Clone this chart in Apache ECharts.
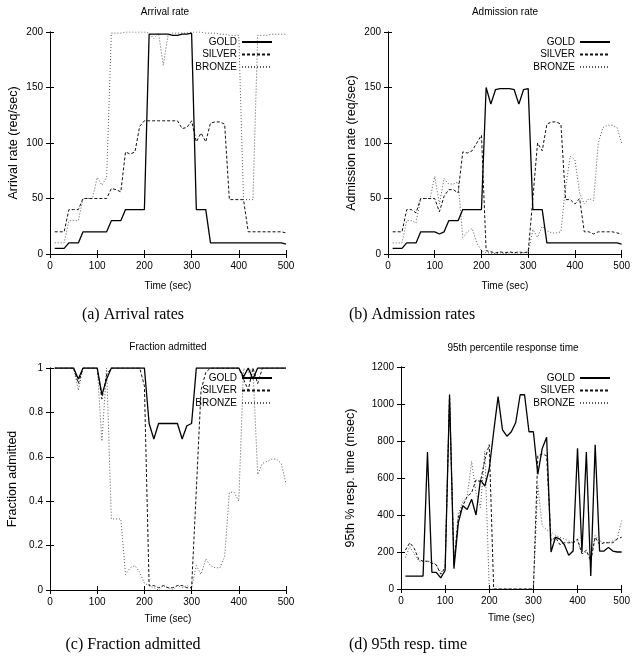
<!DOCTYPE html>
<html><head><meta charset="utf-8">
<script src="https://cdn.jsdelivr.net/npm/echarts@6/dist/echarts.min.js"></script>
<style>html,body{margin:0;padding:0;background:#fff}#c{width:633px;height:666px}</style>
</head><body><div id="c"></div>
<script>
// ---- data ----
const times = [10,20,30,40,50,60,70,80,90,100,110,120,130,140,150,160,170,180,190,200,
  210,220,230,240,250,260,270,280,290,300,310,320,330,340,350,360,370,380,390,400,
  410,420,430,440,450,460,470,480,490,500];
const seriesNames = ['GOLD','SILVER','BRONZE'];

const goldArrival = [5,5,5,10,10,10,20,20,20,20, 20,20,30,30,30,40,40,40,40,40,
  198,198,198,198,198,197,197,198,198,199, 40,40,40,10,10,10,10,10,10,10, 10,10,10,10,10,10,10,10,10,9];
const silverArrival = [20,20,20,40,40,40,50,50,50,50, 50,50,59,58,56,92,90,92,115,120,
  120,120,120,120,120,120,120,113,114,120, 101,109,101,118,119,119,117,49,49,49, 49,20,20,20,20,20,20,20,20,19];
const bronzeArrival = [10,10,10,30,30,30,50,50,50,69, 62,69,199,199,199,200,200,200,200,200,
  199,194,199,170,197,199,199,199,199,200, 200,200,199,199,199,198,198,197,197,197, 49,49,49,197,197,197,198,198,198,198];

const goldAdmission = [5,5,5,10,10,10,20,20,20,20, 18,20,30,30,30,40,40,40,40,40,
  150,135,148,149,149,149,148,135,148,149, 40,40,40,10,10,10,10,10,10,10, 10,10,10,10,10,10,10,10,10,9];
const silverAdmission = [20,20,20,40,40,37,50,50,50,50, 38,52,58,58,55,92,91,93,100,107,
  3,2,1,2,1,2,1,2,1,2, 50,100,93,117,119,119,117,49,49,45, 50,20,20,18,20,20,20,20,19,18];
const bronzeAdmission = [10,10,10,30,30,28,50,50,50,70, 45,68,63,63,65,15,20,23,10,3,
  1,1,0,1,0,1,1,0,1,1, 22,15,25,21,19,19,20,60,88,85, 55,45,50,48,100,114,116,116,114,100];

const goldFraction = [1,1,1,1,1,0.95,1,1,1,1, 0.88,0.95,1,1,1,1,1,1,1,1,
  0.75,0.68,0.75,0.75,0.75,0.75,0.75,0.68,0.74,0.75, 1,1,1,1,1,1,1,1,1,1, 0.96,1,0.95,1,1,1,1,1,1,1];
const silverFraction = [1,1,1,1,1,0.93,1,1,1,1, 0.86,0.97,1,1,1,1,1,1,1,0.92,
  0.02,0.02,0.01,0.02,0.01,0.01,0.02,0.02,0.01,0.01, 0.45,0.9,0.98,1,1,1,1,1,1,1, 0.95,0.9,1,0.93,1,1,1,1,1,1];
const bronzeFraction = [1,1,1,1,1,0.9,1,1,1,1, 0.67,1,0.32,0.32,0.32,0.07,0.1,0.11,0.08,0.03,
  0.02,0.01,0,0.02,0.01,0,0.02,0.01,0.02,0.01, 0.11,0.07,0.14,0.11,0.1,0.1,0.15,0.44,0.44,0.4, 1,0.98,1,0.52,0.57,0.58,0.59,0.59,0.57,0.48];

const goldResp = [70,70,70,70,70,740,90,90,60,100, 1050,110,360,450,430,485,400,590,556,650,
  850,1040,860,826,850,900,1050,1050,850,850, 620,760,820,200,280,270,240,182,205,760, 200,740,70,780,205,205,225,205,200,200];
const silverResp = [210,250,220,160,150,150,140,130,80,115, 1050,130,390,450,500,520,590,580,700,780,
  0,0,0,0,0,0,0,0,0,0, 720,730,720,260,280,240,250,250,250,270, 190,210,150,280,240,250,250,250,270,280];
const bronzeResp = [170,230,190,150,150,150,150,130,90,110, 1040,150,410,470,500,690,520,440,745,0,
  0,0,0,0,0,0,0,0,0,0, 560,340,320,310,290,280,270,260,250,260, 190,200,170,290,260,250,250,260,270,370];

const panelTitles = ['Arrival rate','Admission rate','Fraction admitted','95th percentile response time'];
const captions = ['(a) Arrival rates','(b) Admission rates','(c) Fraction admitted','(d) 95th resp. time'];
const yNames = ['Arrival rate (req/sec)','Admission rate (req/sec)','Fraction admitted','95th % resp. time (msec)'];
const xName = 'Time (sec)';
const yScales = [{min:0,max:200,interval:50},{min:0,max:200,interval:50},{min:0,max:1,interval:0.2},{min:0,max:1200,interval:200}];
const xScale = {min:0,max:500,interval:100};

// ---- layout / style ----
const FONT = 'Liberation Sans, Arial, Helvetica, sans-serif';
const grids = [
  {left:50, top:32, width:236, height:222},
  {left:388, top:32, width:235, height:222},
  {left:50, top:368, width:236, height:222},
  {left:401, top:367, width:222, height:222}
];
const yNameGaps = [30, 30, 31, 44];
const xNameGaps = [27, 27, 24, 24];
const titlePos = [[165,12],[505,12],[168,347],[513,348]];
const captionPos = [[133,315],[412,315],[133,645],[408,645]];
const legendPos = [{right:360, top:37},{right:22, top:37},{right:360, top:373},{right:22, top:373}];
const styles = [
  {color:'#000', width:1.3, type:'solid'},
  {color:'#111', width:1, type:[3,2]},
  {color:'#555', width:1, type:[1,2]}
];
const panelData = [
  [goldArrival, silverArrival, bronzeArrival],
  [goldAdmission, silverAdmission, bronzeAdmission],
  [goldFraction, silverFraction, bronzeFraction],
  [goldResp, silverResp, bronzeResp]
];

const pairs = vals => times.map((t,i) => [t, vals[i]]);
const axisLine = {show:true, lineStyle:{color:'#000', width:1}};
const tick = {show:true, inside:true, length:4, lineStyle:{color:'#000'}};
const plainNum = v => String(v);

const xAxes = [], yAxes = [], series = [], legends = [], graphics = [];
grids.forEach((g, k) => {
  xAxes.push({type:'value', gridIndex:k, ...xScale, position:'bottom',
    name:xName, nameLocation:'middle', nameGap:xNameGaps[k],
    nameTextStyle:{fontFamily:FONT, fontSize:10, color:'#000'},
    axisLine, axisTick:tick, splitLine:{show:false},
    axisLabel:{fontFamily:FONT, fontSize:10, color:'#000', margin:7, formatter:plainNum}});
  yAxes.push({type:'value', gridIndex:k, ...yScales[k], position:'left',
    name:yNames[k], nameLocation:'middle', nameGap:yNameGaps[k],
    nameTextStyle:{fontFamily:FONT, fontSize:12.5, color:'#000'},
    axisLine, axisTick:tick, splitLine:{show:false},
    axisLabel:{fontFamily:FONT, fontSize:10, color:'#000', margin:7, formatter:plainNum}});
});
grids.forEach((g, k) => {
  xAxes.push({type:'value', gridIndex:k, ...xScale, position:'top',
    axisLine, axisTick:tick, axisLabel:{show:false}, splitLine:{show:false}});
  yAxes.push({type:'value', gridIndex:k, ...yScales[k], position:'right',
    axisLine, axisTick:tick, axisLabel:{show:false}, splitLine:{show:false}});
});
panelData.forEach((arrs, k) => {
  arrs.forEach((vals, s) => {
    series.push({type:'line', name:seriesNames[s], xAxisIndex:k, yAxisIndex:k,
      data:pairs(vals), showSymbol:false, symbol:'none', animation:false,
      lineStyle:{...styles[s]}, itemStyle:{color:styles[s].color}, z: 3 - s});
  });
  legends.push({data:seriesNames, orient:'vertical', align:'right', ...legendPos[k],
    itemWidth:30, itemHeight:10, itemGap:2.5, padding:0,
    itemStyle:{opacity:0, borderWidth:0},
    textStyle:{fontFamily:FONT, fontSize:10, color:'#000'}});
  graphics.push({type:'text', x:titlePos[k][0], y:titlePos[k][1],
    style:{text:panelTitles[k], font:'10px ' + FONT, fill:'#000', align:'center', verticalAlign:'middle', textAlign:'center', textVerticalAlign:'middle'}});
  graphics.push({type:'text', x:captionPos[k][0], y:captionPos[k][1],
    style:{text:captions[k], font:'16px Liberation Serif, Times New Roman, serif', fill:'#000', align:'center', verticalAlign:'middle', textAlign:'center', textVerticalAlign:'middle'}});
});

const chart = echarts.init(document.getElementById('c'), null, {renderer:'canvas'});
chart.setOption({
  animation:false,
  backgroundColor:'#fff',
  grid:grids.map(g => ({...g, containLabel:false})),
  xAxis:xAxes, yAxis:yAxes, series, legend:legends, graphic:graphics
});
</script>
</body></html>
